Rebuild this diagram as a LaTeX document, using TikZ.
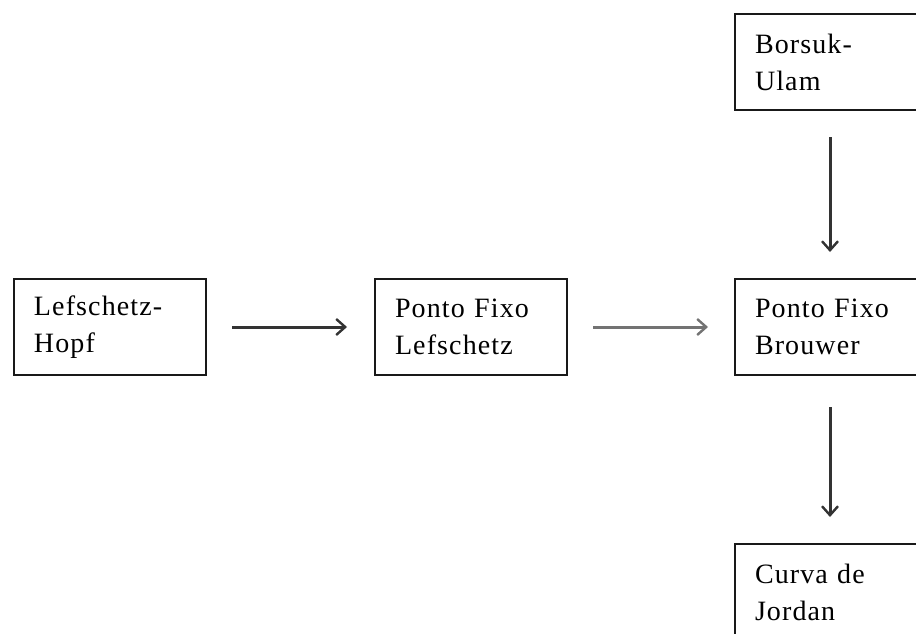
\documentclass[tikz,border=0pt]{standalone}
\usepackage{fontspec}
\setmainfont{Liberation Serif}[LetterSpace=4, WordSpace=2]
\usetikzlibrary{arrows.meta}
\tikzset{
	thmbox/.style={draw=black!90, line width=2pt, rectangle, anchor=north west,
		minimum width=192pt, minimum height=96pt, text width=152pt, inner xsep=20pt,
		align=left, font=\fontsize{28}{37}\selectfont},
	widebox/.style={thmbox, minimum width=260pt, text width=220pt},
	implies/.style={line width=3pt, draw=black!80, -{Straight Barb[length=9pt,width=16pt,line width=2.4pt]}},
}

\begin{document}
\begin{tikzpicture}[x=1pt, y=-1pt]
		%%%%% START %%%%%
		
		\useasboundingbox (0, 0) rectangle (916, 634);
		
		\node[widebox] (borsuk) at (734, 13) {Borsuk-\\Ulam};
		
		\node[thmbox] (hopf) at (13, 278) {Lefschetz-\\Hopf};
		\node[thmbox] (lefschetz) at (374, 278) {Ponto Fixo\\Lefschetz};
		\node[widebox] (brouwer) at (734, 278) {Ponto Fixo\\Brouwer};
		
		\node[widebox] (jordan) at (734, 543) {Curva de\\Jordan};
		
		\draw[implies, shorten <=25pt, shorten >=27pt] (hopf) -- (lefschetz);
		\draw[implies, draw=black!55, shorten <=25pt, shorten >=26pt] (lefschetz) -- (brouwer.west);
		
		\draw[implies, shorten <=26pt, shorten >=26pt] (borsuk.south -| 830, 0) -- (brouwer.north -| 830, 0);
		\draw[implies, shorten <=31pt, shorten >=26pt] (brouwer.south -| 830, 0) -- (jordan.north -| 830, 0);
		
		%%%%% END %%%%%
	\end{tikzpicture}
\end{document}
